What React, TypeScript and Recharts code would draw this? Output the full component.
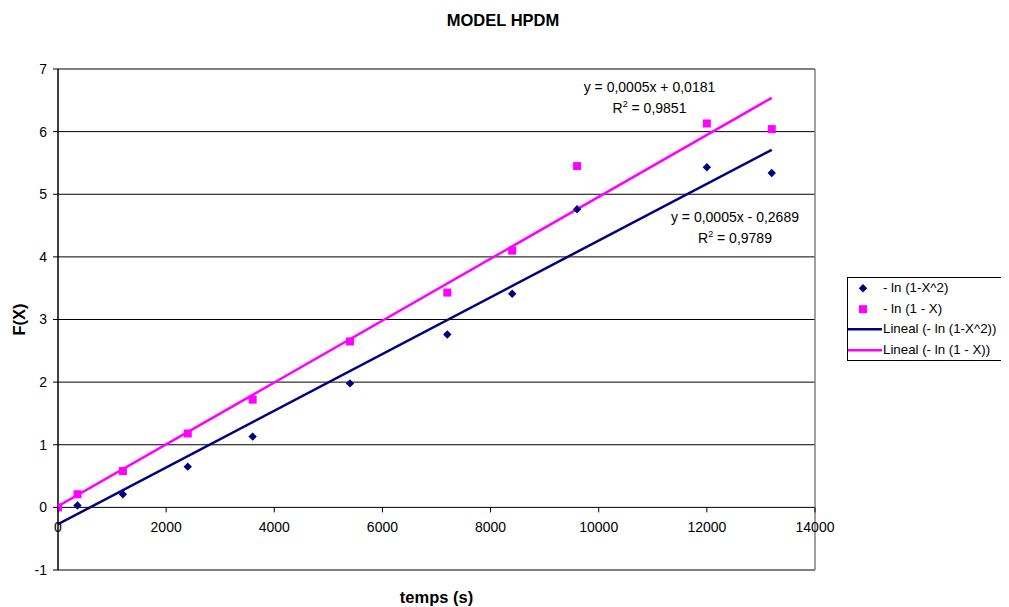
import React from "react";
import {
  ScatterChart,
  Scatter,
  XAxis,
  YAxis,
  CartesianGrid,
  ReferenceLine,
  ReferenceDot,
  Label,
} from "recharts";

// ---- data ----
const times = [0, 360, 1200, 2400, 3600, 5400, 7200, 8400, 9600, 12000, 13200];
const lnOneMinusX2 = [0, 0.03, 0.21, 0.65, 1.13, 1.98, 2.76, 3.41, 4.76, 5.43, 5.34];
const lnOneMinusX = [0, 0.21, 0.58, 1.18, 1.72, 2.65, 3.43, 4.1, 5.45, 6.13, 6.04];

const trendX = [0, 13200];
const trendBlueY = [-0.2689, 5.71];
const trendPinkY = [0.0181, 6.54];

const xTicks = [0, 2000, 4000, 6000, 8000, 10000, 12000, 14000];
const yTicks = [-1, 0, 1, 2, 3, 4, 5, 6, 7];

const title = "MODEL HPDM";
const xTitle = "temps (s)";
const yTitle = "F(X)";
const seriesNames = [
  "- ln (1-X^2)",
  "- ln (1 - X)",
  "Lineal (- ln (1-X^2))",
  "Lineal (- ln (1 - X))",
];
const eqPink = { x: 10939, y: 6.54, line1: "y = 0,0005x + 0,0181", r2: "0,9851" };
const eqBlue = { x: 12520, y: 4.465, line1: "y = 0,0005x - 0,2689", r2: "0,9789" };

// ---- derived ----
const blueData = times.map((t, i) => ({ x: t, y: lnOneMinusX2[i] }));
const pinkData = times.map((t, i) => ({ x: t, y: lnOneMinusX[i] }));
const blueTrend = trendX.map((t, i) => ({ x: t, y: trendBlueY[i] }));
const pinkTrend = trendX.map((t, i) => ({ x: t, y: trendPinkY[i] }));

// ---- layout ----
const W = 1000;
const H = 599;
const MARGIN = { top: 61, right: 193, bottom: 0, left: 0 };
const YAXIS_W = 50;
const XAXIS_H = 37;
const PLOT_H = H - MARGIN.top - MARGIN.bottom - XAXIS_H;
const Y_MIN = -1;
const Y_MAX = 7;
const Y0 = MARGIN.top + (PLOT_H * (Y_MAX - 0)) / (Y_MAX - Y_MIN);

const FONT = "'Liberation Sans', Arial, sans-serif";
const NAVY = "#000080";
const PINK = "#FF00FF";
const TICK_FS = 14;

const Diamond = (p: any) => {
  const { cx, cy } = p;
  if (cx == null || cy == null) return <g />;
  const r = 4.2;
  return (
    <polygon
      points={`${cx},${cy - r} ${cx + r},${cy} ${cx},${cy + r} ${cx - r},${cy}`}
      fill={NAVY}
    />
  );
};

const Square = (p: any) => {
  const { cx, cy } = p;
  if (cx == null || cy == null) return <g />;
  const s = 8;
  return <rect x={cx - s / 2} y={cy - s / 2} width={s} height={s} fill={PINK} />;
};

const NoShape = () => <g />;

const XTick = (p: any) => {
  const { x, payload } = p;
  return (
    <g>
      <line x1={x} x2={x} y1={Y0} y2={Y0 + 5} stroke="#000" strokeWidth={1} />
      <text
        x={x}
        y={Y0 + 19.5}
        textAnchor="middle"
        dominantBaseline="central"
        fontSize={TICK_FS}
        fontFamily={FONT}
        fill="#000"
      >
        {payload.value}
      </text>
    </g>
  );
};

const EqLabel = (info: { line1: string; r2: string }) => (p: any) => {
  const { cx, cy } = p;
  if (cx == null || cy == null) return <g />;
  return (
    <g fontFamily={FONT} fontSize={TICK_FS} fill="#000">
      <text x={cx} y={cy - 10.7} textAnchor="middle" dy="0.35em">
        {info.line1}
      </text>
      <text x={cx} y={cy + 10.7} textAnchor="middle" dy="0.35em">
        <tspan>R</tspan>
        <tspan dy="-6" fontSize={9}>
          2
        </tspan>
        <tspan dy="6">{` = ${info.r2}`}</tspan>
      </text>
    </g>
  );
};

const LegendBox = () => {
  const row = (icon: React.ReactNode, text: string) => (
    <div style={{ display: "flex", alignItems: "center", height: 20.5 }}>
      <svg width={34} height={20.5} style={{ display: "block", flex: "none" }}>
        {icon}
      </svg>
      <span style={{ marginLeft: 1, whiteSpace: "nowrap" }}>{text}</span>
    </div>
  );
  return (
    <div
      style={{
        position: "absolute",
        left: 839,
        top: 269,
        width: 155,
        height: 84,
        border: "1px solid #000",
        boxSizing: "border-box",
        background: "#fff",
        fontFamily: FONT,
        fontSize: 13.3,
        color: "#000",
        lineHeight: "20.5px",
        zIndex: 2,
      }}
    >
      {row(
        <polygon points="15,6 19.2,10.2 15,14.4 10.8,10.2" fill={NAVY} />,
        seriesNames[0]
      )}
      {row(<rect x={11} y={6.2} width={8} height={8} fill={PINK} />, seriesNames[1])}
      {row(<line x1={0} x2={34} y1={10.2} y2={10.2} stroke={NAVY} strokeWidth={2.5} />, seriesNames[2])}
      {row(<line x1={0} x2={34} y1={10.2} y2={10.2} stroke={PINK} strokeWidth={2.5} />, seriesNames[3])}
    </div>
  );
};

export default function App() {
  return (
    <div style={{ position: "relative", width: W, height: H, background: "#fff" }}>
      <div
        style={{
          position: "absolute",
          left: 0,
          top: 3.5,
          width: 990,
          textAlign: "center",
          fontFamily: FONT,
          fontWeight: "bold",
          fontSize: 16.5,
          lineHeight: "16px",
          color: "#000",
        }}
      >
        {title}
      </div>
      <ScatterChart width={W} height={H} margin={MARGIN}>
        <CartesianGrid horizontal={true} vertical={false} stroke="#000" strokeWidth={1} />
        <XAxis
          type="number"
          dataKey="x"
          domain={[0, 14000]}
          ticks={xTicks}
          interval={0}
          height={XAXIS_H}
          axisLine={{ stroke: "#808080", strokeWidth: 1.5 }}
          tickLine={false}
          tick={<XTick />}
          allowDataOverflow
        >
          <Label
            content={(p: any) => {
              const vb = p.viewBox || {};
              return (
                <text
                  x={vb.x + vb.width / 2}
                  y={vb.y + 27}
                  dy="0.35em"
                  textAnchor="middle"
                  fontFamily={FONT}
                  fontWeight="bold"
                  fontSize={16.5}
                  fill="#000"
                >
                  {xTitle}
                </text>
              );
            }}
          />
        </XAxis>
        <YAxis
          type="number"
          dataKey="y"
          domain={[Y_MIN, Y_MAX]}
          ticks={yTicks}
          interval={0}
          width={YAXIS_W}
          axisLine={{ stroke: "#000", strokeWidth: 1.5 }}
          tickLine={{ stroke: "#000" }}
          tickSize={5}
          tickMargin={6}
          tick={{ fontSize: TICK_FS, fontFamily: FONT, fill: "#000" }}
          allowDataOverflow
        >
          <Label
            content={(p: any) => {
              const vb = p.viewBox || {};
              const cx = vb.x + 11;
              const cy = vb.y + vb.height / 2;
              return (
                <text
                  x={cx}
                  y={cy}
                  dy="0.35em"
                  textAnchor="middle"
                  transform={`rotate(-90, ${cx}, ${cy})`}
                  fontFamily={FONT}
                  fontWeight="bold"
                  fontSize={16.5}
                  fill="#000"
                >
                  {yTitle}
                </text>
              );
            }}
          />
        </YAxis>
        <ReferenceLine x={14000} stroke="#808080" strokeWidth={1.5} ifOverflow="extendDomain" />
        <Scatter
          name={seriesNames[2]}
          data={blueTrend}
          line={{ stroke: NAVY, strokeWidth: 2.5 }}
          shape={NoShape}
          isAnimationActive={false}
          legendType="none"
        />
        <Scatter
          name={seriesNames[3]}
          data={pinkTrend}
          line={{ stroke: PINK, strokeWidth: 2.5 }}
          shape={NoShape}
          isAnimationActive={false}
          legendType="none"
        />
        <Scatter
          name={seriesNames[0]}
          data={blueData}
          shape={Diamond}
          isAnimationActive={false}
        />
        <Scatter
          name={seriesNames[1]}
          data={pinkData}
          shape={Square}
          isAnimationActive={false}
        />
        <ReferenceDot x={eqPink.x} y={eqPink.y} r={0} shape={EqLabel(eqPink)} ifOverflow="visible" />
        <ReferenceDot x={eqBlue.x} y={eqBlue.y} r={0} shape={EqLabel(eqBlue)} ifOverflow="visible" />
      </ScatterChart>
      <LegendBox />
    </div>
  );
}
